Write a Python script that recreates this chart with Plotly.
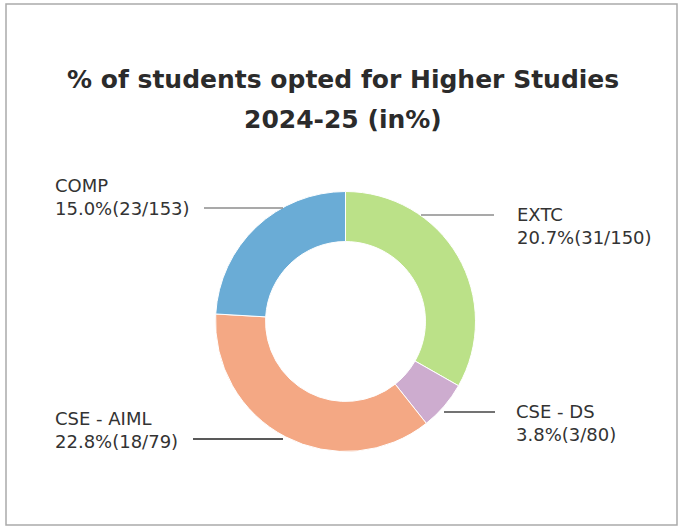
import plotly.graph_objects as go

# ---- data ----
departments = ["EXTC", "CSE - DS", "CSE - AIML", "COMP"]
percentages = [20.7, 3.8, 22.8, 15.0]
students_opted = [31, 3, 18, 23]
students_total = [150, 80, 79, 153]
colors = ["#BBE188", "#CDACCF", "#F4A884", "#6AACD6"]
title_lines = ["% of students opted for Higher Studies", "2024-25 (in%)"]

W, H = 681, 527


def px(x):
    return x / W


def py(y):
    return 1 - y / H


cx, cy, r = 345.5, 321.5, 130

fig = go.Figure(
    go.Pie(
        labels=departments,
        values=percentages,
        hole=0.615,
        sort=False,
        direction="clockwise",
        rotation=0,
        marker=dict(colors=colors, line=dict(color="white", width=1)),
        textinfo="none",
        hoverinfo="label+value",
        domain=dict(x=[px(cx - r), px(cx + r)], y=[py(cy + r), py(cy - r)]),
        showlegend=False,
    )
)

# label layout: (text left x, block centre y, line x0, line x1, line y, line colour)
label_layout = {
    "EXTC": (515, 226, 421, 494, 215, "#8c8c8c"),
    "CSE - DS": (514, 423, 444, 495, 412, "#444444"),
    "CSE - AIML": (53, 430, 193, 283, 439, "#222222"),
    "COMP": (53, 197, 204, 283, 208, "#8c8c8c"),
}

annotations = []
shapes = []
for name, pct, n, d in zip(departments, percentages, students_opted, students_total):
    tx, ty, lx0, lx1, ly, lc = label_layout[name]
    annotations.append(
        dict(
            text=f"{name}<br>{pct:.1f}%({n}/{d})",
            x=px(tx), y=py(ty), xref="paper", yref="paper",
            xanchor="left", yanchor="middle", align="left",
            showarrow=False,
            font=dict(family="DejaVu Sans", size=18, color="#333333"),
        )
    )
    shapes.append(
        dict(type="line", xref="paper", yref="paper",
             x0=px(lx0), x1=px(lx1), y0=py(ly), y1=py(ly),
             line=dict(color=lc, width=1.5))
    )

# title lines
for txt, yy in zip(title_lines, [79, 120]):
    annotations.append(
        dict(text=f"<b>{txt}</b>", x=px(343), y=py(yy), xref="paper", yref="paper",
             xanchor="center", yanchor="middle", showarrow=False,
             font=dict(family="DejaVu Sans", size=25, color="#2b2b2b"))
    )

# outer frame
shapes.append(
    dict(type="rect", xref="paper", yref="paper",
         x0=px(6), x1=px(677), y0=py(525), y1=py(4),
         line=dict(color="#aaaaaa", width=1.5), fillcolor="rgba(0,0,0,0)")
)

fig.update_layout(
    width=W, height=H,
    margin=dict(l=0, r=0, t=0, b=0),
    paper_bgcolor="white", plot_bgcolor="white",
    annotations=annotations, shapes=shapes,
)

fig.write_html(
    "out.html",
    config={"displayModeBar": False},
    post_script="document.body.style.margin='0';",
)
